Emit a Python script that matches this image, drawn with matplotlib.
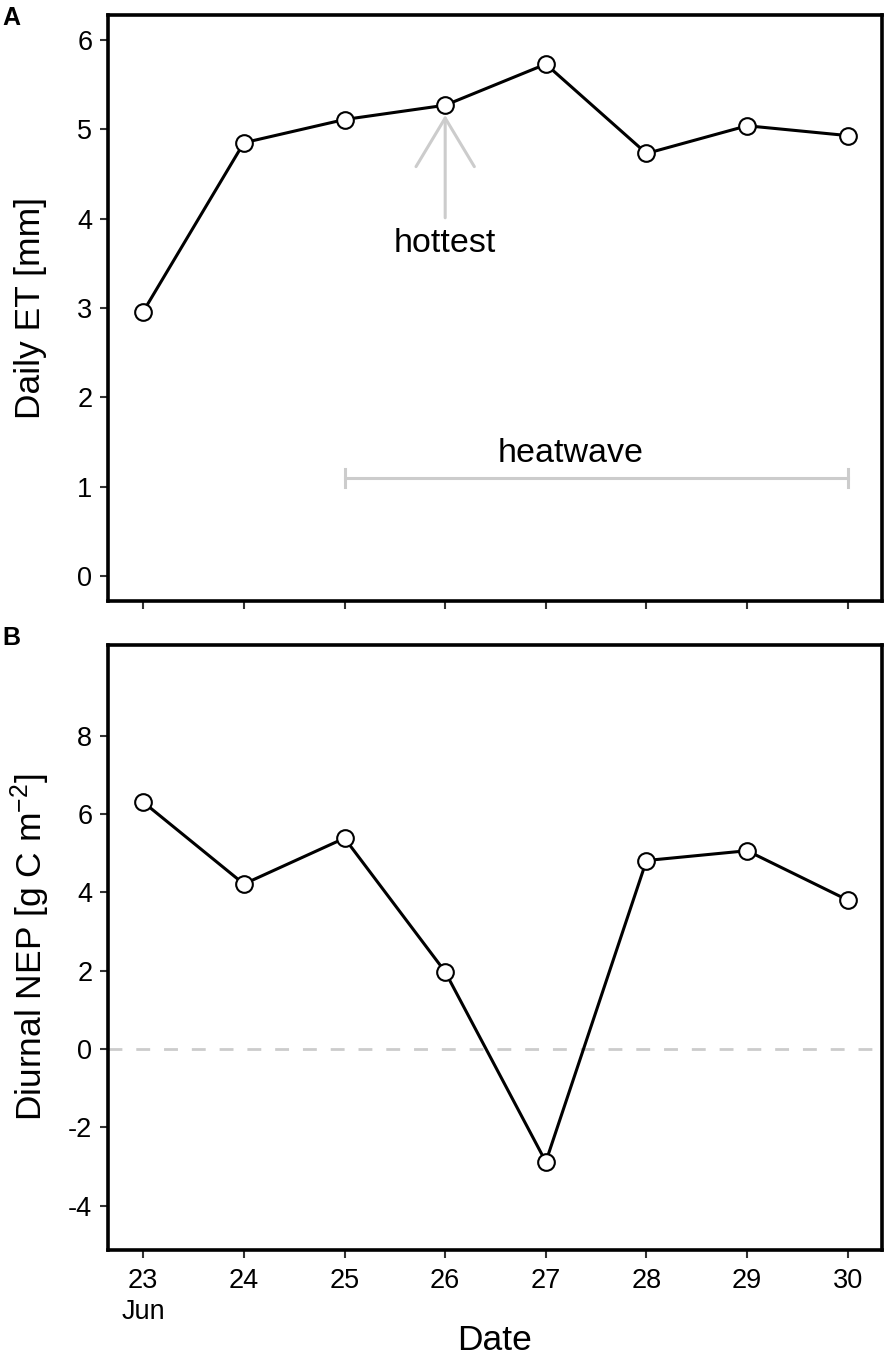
import numpy as np
import matplotlib
matplotlib.use('Agg')
import matplotlib.pyplot as plt

# ===================== data =====================
DAYS = [23, 24, 25, 26, 27, 28, 29, 30]
DAY_LABELS = ['23\nJun', '24', '25', '26', '27', '28', '29', '30']
ET = [2.96, 4.85, 5.11, 5.27, 5.73, 4.73, 5.04, 4.93]        # Daily ET [mm]
NEP = [6.30, 4.21, 5.38, 1.97, -2.88, 4.81, 5.06, 3.80]     # Diurnal NEP [g C m-2]
ET_TICKS = [0, 1, 2, 3, 4, 5, 6]
NEP_TICKS = [-4, -2, 0, 2, 4, 6, 8]
HEATWAVE = (25, 30)
HEATWAVE_Y = 1.1
HOTTEST_DAY = 26

# ===================== style =====================
plt.rcParams['font.family'] = ['Liberation Sans', 'DejaVu Sans']
plt.rcParams['mathtext.fontset'] = 'custom'
plt.rcParams['mathtext.rm'] = 'Liberation Sans'
plt.rcParams['mathtext.it'] = 'Liberation Sans:italic'
plt.rcParams['axes.unicode_minus'] = False

GREY = '#cccccc'
TICK_COL = '#333333'
W, H = 884, 1358
TITLE_FS = 25.5
ANNOT_FS = 24.5
TICK_FS = 19.5

fig = plt.figure(figsize=(W / 100, H / 100), dpi=100)
left, right = 108 / W, 882 / W
ax1 = fig.add_axes([left, 1 - 601 / H, right - left, (601 - 15) / H])
ax2 = fig.add_axes([left, 1 - 1250 / H, right - left, (1250 - 645) / H])


def style_axes(ax):
    for sp in ax.spines.values():
        sp.set_linewidth(2.6)
        sp.set_color('black')
    ax.tick_params(axis='both', length=5.8, width=1.5, color=TICK_COL,
                   labelsize=TICK_FS, labelcolor='black')
    ax.tick_params(axis='y', pad=5.5)
    ax.tick_params(axis='x', pad=7)
    ax.set_xlim(22.65, 30.34)
    ax.set_xticks(DAYS)


def draw_series(ax, y):
    ax.plot(DAYS, y, color='black', lw=2.2, zorder=3)
    ax.plot(DAYS, y, ls='none', marker='o', ms=12, mfc='white', mec='black',
            mew=1.5, zorder=4)


# ---------- panel A ----------
style_axes(ax1)
draw_series(ax1, ET)
ax1.set_ylim(-0.28, 6.28)
ax1.set_yticks(ET_TICKS)
ax1.set_xticklabels([])
ax1.set_ylabel('Daily ET [mm]', fontsize=TITLE_FS, va='center')
ax1.yaxis.set_label_coords(-0.0995, 0.5)

# heatwave bar
ax1.plot(list(HEATWAVE), [HEATWAVE_Y, HEATWAVE_Y], color=GREY, lw=2.2, zorder=2)
for xe in HEATWAVE:
    ax1.plot([xe, xe], [HEATWAVE_Y - 0.1, HEATWAVE_Y + 0.1], color=GREY, lw=2.2, zorder=2)
ax1.text(27.25, HEATWAVE_Y + 0.27, 'heatwave', fontsize=ANNOT_FS, ha='center', va='center')

# hottest arrow
hot_y = ET[DAYS.index(HOTTEST_DAY)]
ax1.annotate('', xy=(HOTTEST_DAY, hot_y - 0.11), xytext=(HOTTEST_DAY, 4.01),
             arrowprops=dict(arrowstyle='->,head_length=3.5,head_width=2.1',
                             color=GREY, lw=2.2, mutation_scale=10,
                             shrinkA=0, shrinkB=0), zorder=2)
ax1.text(HOTTEST_DAY, 3.72, 'hottest', fontsize=ANNOT_FS, ha='center', va='center')

# ---------- panel B ----------
style_axes(ax2)
ax2.axhline(0, color=GREY, lw=2, dashes=(5, 5), zorder=1)
draw_series(ax2, NEP)
ax2.set_ylim(-5.13, 10.31)
ax2.set_yticks(NEP_TICKS)
ax2.set_xticklabels(DAY_LABELS, linespacing=1.25)
ax2.set_ylabel('Diurnal NEP [g C m$^{-2}$]', fontsize=TITLE_FS, va='center')
ax2.yaxis.set_label_coords(-0.1, 0.5)
ax2.set_xlabel('Date', fontsize=TITLE_FS, va='bottom')
ax2.xaxis.set_label_coords(0.5, -(H - 1 - 1250) / (1250 - 645))

# panel letters
fig.text(2 / W, 1 - 25 / H, 'A', fontsize=18, fontweight='bold', va='baseline')
fig.text(2 / W, 1 - 645 / H, 'B', fontsize=18, fontweight='bold', va='baseline')

fig.savefig('out.png', dpi=100)
